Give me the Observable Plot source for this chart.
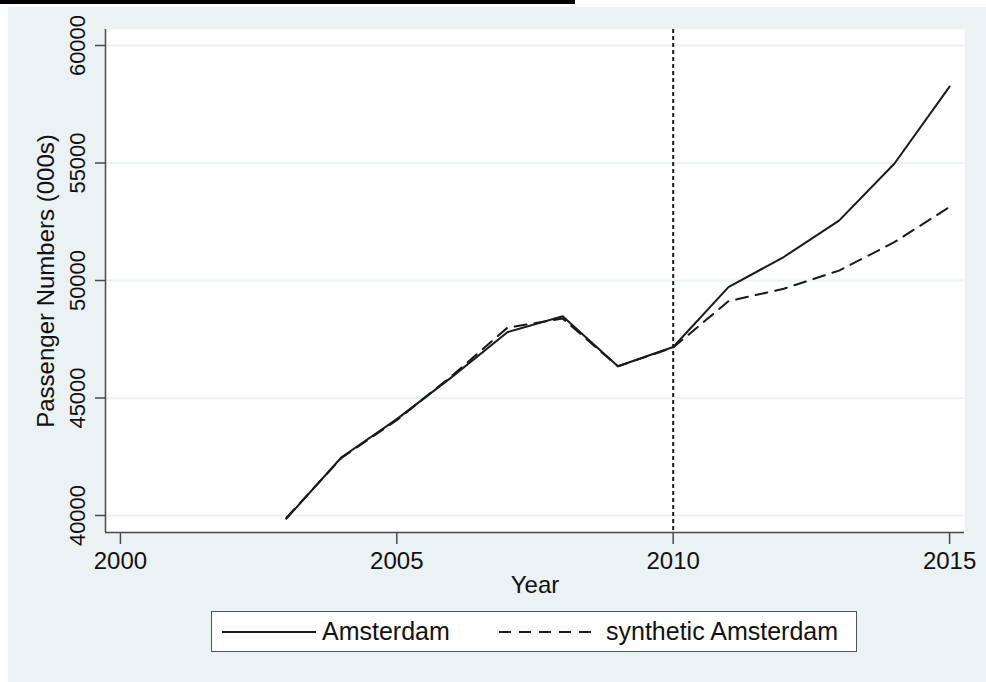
<!DOCTYPE html>
<html>
<head>
<meta charset="utf-8">
<script src="https://cdn.jsdelivr.net/npm/d3@7"></script>
<script src="https://cdn.jsdelivr.net/npm/@observablehq/plot@0.6"></script>
<style>
  html, body { margin: 0; padding: 0; background: white; }
  #wrap { position: relative; width: 986px; height: 682px; overflow: hidden; font-family: "Liberation Sans", Arial, sans-serif; }
  #panel { position: absolute; left: 8px; top: 7px; right: 0; bottom: 0; background: #eaf2f3; }
  #topbar { position: absolute; left: 0; top: 0; width: 575px; height: 4px; background: #000; }
  #chart { position: absolute; left: 0; top: 0; }
  #legend { position: absolute; left: 211px; top: 611px; width: 646px; height: 41px; background: white; border: 1.5px solid #555; box-sizing: border-box; font-size: 25px; color: #111; }
  #legend .item { position: absolute; top: 0; height: 100%; display: flex; align-items: center; }
  #legend svg { display: block; }
</style>
</head>
<body>
<div id="wrap">
  <div id="panel"></div>
  <div id="topbar"></div>
  <div id="chart"></div>
  <div id="legend"></div>
</div>
<script>
// ---- data ----
const years = [2003, 2004, 2005, 2006, 2007, 2008, 2009, 2010, 2011, 2012, 2013, 2014, 2015];
const amsterdam = [39860, 42480, 44100, 45900, 47800, 48480, 46350, 47170, 49720, 51000, 52550, 54970, 58250];
const synthetic = [39900, 42450, 44060, 45950, 47990, 48380, 46350, 47150, 49120, 49650, 50420, 51630, 53130];
const xTicks = [2000, 2005, 2010, 2015];
const yTicks = [40000, 45000, 50000, 55000, 60000];
const treatmentYear = 2010;
const seriesNames = ["Amsterdam", "synthetic Amsterdam"];
const xTitle = "Year";
const yTitle = "Passenger Numbers (000s)";

const xDomain = [1999.73, 2015.27];
const yDomain = [39277, 60681];

const rows = years.flatMap((y, i) => [
  {year: y, value: amsterdam[i], series: seriesNames[0]},
  {year: y, value: synthetic[i], series: seriesNames[1]}
]);

const ink = "#1a1a1a";
const axisInk = "#4a4a4a";

const chart = Plot.plot({
  width: 986,
  height: 600,
  marginLeft: 105,
  marginRight: 22,
  marginTop: 29,
  marginBottom: 68,
  style: {background: "transparent", fontFamily: "'Liberation Sans', Arial, sans-serif", fontSize: "24px", color: "#111"},
  x: {domain: xDomain},
  y: {domain: yDomain},
  marks: [
    Plot.frame({fill: "white", stroke: "none"}),
    Plot.gridY(yTicks, {stroke: "#eaf2f3", strokeOpacity: 1, strokeWidth: 2}),
    Plot.ruleX([treatmentYear], {stroke: ink, strokeWidth: 2, strokeDasharray: "4,3"}),
    Plot.line(rows.filter(d => d.series === seriesNames[1]), {x: "year", y: "value", stroke: ink, strokeWidth: 2, strokeDasharray: "12,8"}),
    Plot.line(rows.filter(d => d.series === seriesNames[0]), {x: "year", y: "value", stroke: ink, strokeWidth: 2}),
    Plot.ruleX([xDomain[0]], {stroke: axisInk, strokeWidth: 1.5}),
    Plot.ruleY([yDomain[0]], {stroke: axisInk, strokeWidth: 1.5}),
    Plot.axisX({ticks: xTicks, tickSize: 12, tickPadding: 7, tickFormat: d => String(d), label: null, stroke: axisInk, strokeWidth: 1.5, fontSize: 24, fill: "#111"}),
    Plot.axisY({ticks: yTicks, tickSize: 10, tickPadding: 11, tickRotate: -90, textAnchor: "middle", lineAnchor: "bottom", tickFormat: d => String(d), label: null, stroke: axisInk, strokeWidth: 1.5, fontSize: 22, fill: "#111"}),
    Plot.text([xTitle], {text: d => d, frameAnchor: "bottom", dy: 53, lineAnchor: "middle", fontSize: 24, fill: "#111"}),
    Plot.text([yTitle], {text: d => d, frameAnchor: "left", dx: -52, rotate: -90, textAnchor: "middle", lineAnchor: "bottom", fontSize: 24, fill: "#111"})
  ]
});
document.getElementById("chart").appendChild(chart);

// ---- legend ----
const legend = d3.select("#legend");
const items = [
  {name: seriesNames[0], dash: null, left: 10, textLeft: 110},
  {name: seriesNames[1], dash: "12,8", left: 287, textLeft: 394}
];
items.forEach(it => {
  const g = legend.append("div").attr("class", "item").style("left", it.left + "px");
  const s = g.append("svg").attr("width", 94).attr("height", 10);
  s.append("line").attr("x1", 0).attr("x2", 94).attr("y1", 5).attr("y2", 5)
    .attr("stroke", ink).attr("stroke-width", 2).attr("stroke-dasharray", it.dash);
  legend.append("div").attr("class", "item").style("left", it.textLeft + "px").text(it.name);
});
</script>
</body>
</html>
